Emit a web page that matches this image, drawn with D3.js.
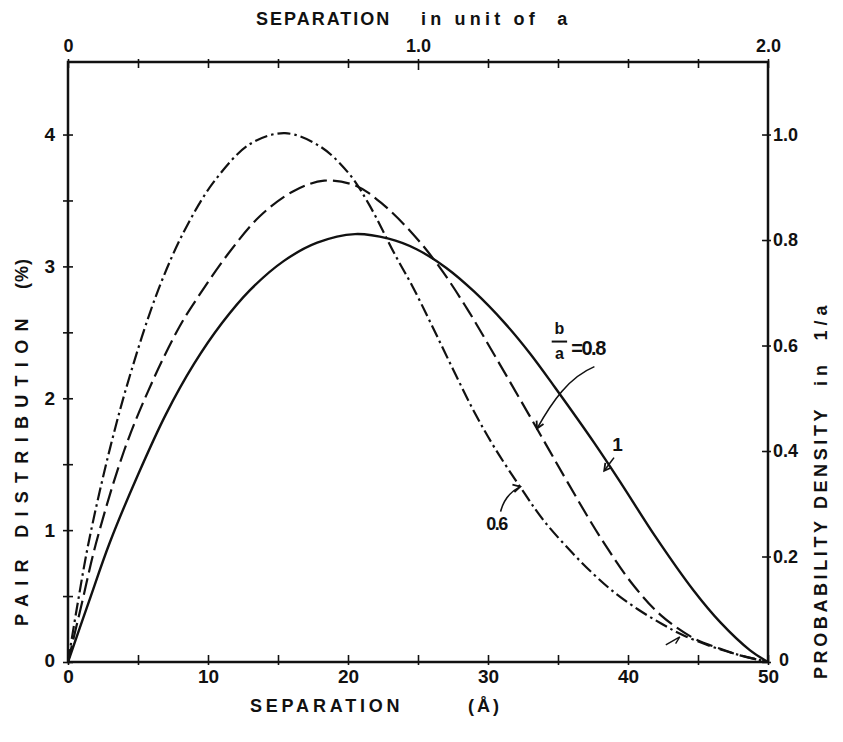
<!DOCTYPE html>
<html>
<head>
<meta charset="utf-8">
<script src="https://cdn.jsdelivr.net/npm/d3@7"></script>
<style>
body { margin: 0; background: #fff; }
text { font-family: "Liberation Sans", Arial, sans-serif; font-weight: bold; fill: #111; }
</style>
</head>
<body>
<svg width="843" height="742"></svg>
<script>
// b/a = 1 (solid)
var sepSolid  = [0, 1.5, 3, 5, 7, 9, 11, 13, 15.4, 17.8, 20.5, 22.9, 24.9, 27, 29, 31.2, 33, 34.8, 37.6, 39.6, 41.9, 44.7, 46.6, 48.7, 50];
var pairSolid = [0, 0.46, 0.91, 1.42, 1.88, 2.26, 2.57, 2.82, 3.04, 3.18, 3.245, 3.21, 3.13, 2.99, 2.81, 2.57, 2.34, 2.08, 1.66, 1.34, 0.96, 0.54, 0.30, 0.09, 0];
// b/a = 0.8 (dashed)
var sepDash  = [0, 1, 2, 4, 6, 8, 9.3, 11.4, 13.7, 16.1, 18.3, 20.6, 22.5, 24.6, 26.5, 28.5, 30.5, 32.9, 34.3, 35.7, 38, 40.4, 42.4, 44.7, 46.6, 48, 50];
var pairDash = [0, 0.45, 0.9, 1.6, 2.12, 2.55, 2.77, 3.09, 3.38, 3.57, 3.65, 3.61, 3.47, 3.25, 3.0, 2.68, 2.32, 1.88, 1.62, 1.36, 0.95, 0.58, 0.35, 0.18, 0.10, 0.05, 0];
// b/a = 0.6 (dash-dot)
var sepDot  = [0, 0.7, 1.5, 3, 4.5, 6.44, 8.36, 10.48, 13.03, 15.5, 18.0, 20.1, 21.5, 23.4, 24.6, 26, 27.5, 29, 30.5, 32.6, 34, 36, 37.6, 39, 40.7, 42.4, 43.8, 45.9, 47.7, 50];
var pairDot = [0, 0.45, 0.92, 1.62, 2.2, 2.82, 3.28, 3.65, 3.93, 4.01, 3.91, 3.70, 3.47, 3.08, 2.85, 2.55, 2.22, 1.9, 1.62, 1.28, 1.07, 0.83, 0.66, 0.53, 0.40, 0.29, 0.21, 0.12, 0.06, 0];

var xLabels = [0, 10, 20, 30, 40, 50];
var yLabels = [0, 1, 2, 3, 4];
var rightLabels = ["0", "0.2", "0.4", "0.6", "0.8", "1.0"];
var topLabels = ["0", "1.0", "2.0"];

var svg = d3.select("svg");
var mLeft = 68, mRight = 768, mTop = 62, mBottom = 662;

var x = d3.scaleLinear().domain([0, 50]).range([mLeft, mRight]);
var y = d3.scaleLinear().domain([0, 4.55]).range([mBottom, mTop]);
var xTop = d3.scaleLinear().domain([0, 2]).range([mLeft, mRight]);
var yRight = d3.scaleLinear().domain([0, 4.55 / 4]).range([mBottom, mTop]);

// frame
svg.append("rect")
    .attr("x", mLeft).attr("y", mTop)
    .attr("width", mRight - mLeft).attr("height", mBottom - mTop)
    .attr("fill", "none").attr("stroke", "#111").attr("stroke-width", 2.5);

// axes
var xAxis = d3.axisBottom(x)
    .tickValues(d3.range(0, 51, 5))
    .tickFormat(function(d) { return xLabels.indexOf(d) >= 0 ? d : ""; })
    .tickSize(4).tickPadding(4);
var gx = svg.append("g").attr("transform", "translate(0," + mBottom + ")").call(xAxis);

var topAxis = d3.axisTop(xTop)
    .tickValues(d3.range(0, 2.01, 0.2))
    .tickFormat(function(d, i) { return i == 0 ? topLabels[0] : i == 5 ? topLabels[1] : i == 10 ? topLabels[2] : ""; })
    .tickSize(4).tickPadding(6);
var gt = svg.append("g").attr("transform", "translate(0," + mTop + ")").call(topAxis);

var yAxis = d3.axisLeft(y)
    .tickValues(d3.range(0, 4.01, 0.5))
    .tickFormat(function(d) { return yLabels.indexOf(d) >= 0 ? d : ""; })
    .tickSize(4).tickPadding(9);
var gy = svg.append("g").attr("transform", "translate(" + mLeft + ",0)").call(yAxis);

var rAxis = d3.axisRight(yRight)
    .tickValues([0, 0.2, 0.4, 0.6, 0.8, 1.0])
    .tickFormat(function(d, i) { return rightLabels[i]; })
    .tickSize(3).tickPadding(2);
var gr = svg.append("g").attr("transform", "translate(" + mRight + ",0)").call(rAxis);

[gx, gt, gy, gr].forEach(function(g) {
  g.select(".domain").remove();
  g.selectAll(".tick line").attr("stroke", "#111").attr("stroke-width", 1.6);
  g.selectAll(".tick text").attr("font-size", 18).attr("fill", "#111")
      .style("font-family", "Liberation Sans, Arial, sans-serif").style("font-weight", "bold");
});
// ticks cross the frame line
gx.selectAll(".tick line").attr("y1", 3).attr("y2", -7);
gx.selectAll(".tick text").attr("font-size", 19);
gt.selectAll(".tick line").attr("y1", -3).attr("y2", function(d, i) { return i == 5 ? 8 : 6; });
gy.selectAll(".tick line").attr("x1", -5).attr("x2", 5);
gy.selectAll(".tick text").attr("font-size", 19);
gy.selectAll(".tick text").filter(function(d) { return d == 0; }).attr("y", -2);
gr.selectAll(".tick line").attr("x1", -6).attr("x2", 3);
gr.selectAll(".tick text").filter(function(d) { return d == 0; }).attr("x", 11).attr("y", -2);

// curves
var line = d3.line()
    .x(function(d) { return x(d[0]); })
    .y(function(d) { return y(d[1]); })
    .curve(d3.curveCatmullRom.alpha(0.5));

var series = [
  { sep: sepSolid, pair: pairSolid, dash: null, w: 2.4 },
  { sep: sepDash, pair: pairDash, dash: "17,6", w: 2.2 },
  { sep: sepDot, pair: pairDot, dash: "13,4,2.5,4", w: 2.2 }
];
svg.selectAll(".curve")
    .data(series)
    .enter().append("path")
    .attr("class", "curve")
    .attr("d", function(s) { return line(d3.zip(s.sep, s.pair)); })
    .attr("fill", "none")
    .attr("stroke", "#111")
    .attr("stroke-width", function(s) { return s.w; })
    .attr("stroke-dasharray", function(s) { return s.dash; });

// axis titles
svg.append("text").attr("x", 256).attr("y", 25).attr("font-size", 18)
    .attr("letter-spacing", 2).text("SEPARATION");
svg.append("text").attr("x", 421).attr("y", 25).attr("font-size", 18)
    .attr("letter-spacing", 4.2).attr("xml:space", "preserve").text("in unit of  a");

svg.append("text").attr("x", 250).attr("y", 712).attr("font-size", 18)
    .attr("letter-spacing", 3.8).text("SEPARATION");
svg.append("text").attr("x", 468).attr("y", 712).attr("font-size", 18)
    .attr("letter-spacing", 3).text("(Å)");

svg.append("text").attr("transform", "translate(28,626) rotate(-90)").attr("font-size", 18)
    .attr("letter-spacing", 8.3).text("PAIR DISTRIBUTION");
svg.append("text").attr("transform", "translate(28,289) rotate(-90)").attr("font-size", 18)
    .attr("letter-spacing", 1).text("(%)");

svg.append("text").attr("transform", "translate(827,679) rotate(-90)").attr("font-size", 18)
    .attr("letter-spacing", 3.6).text("PROBABILITY DENSITY");
svg.append("text").attr("transform", "translate(827,386) rotate(-90)").attr("font-size", 18)
    .attr("letter-spacing", 4.9).attr("xml:space", "preserve").text("in  1/a");

// annotations
function arrowHead(g, x0, y0, x1, y1) {
  var a = Math.atan2(y1 - y0, x1 - x0), L = 8, s = 0.5;
  g.append("path")
      .attr("d", "M" + (x1 - L * Math.cos(a - s)) + "," + (y1 - L * Math.sin(a - s)) +
                 "L" + x1 + "," + y1 +
                 "L" + (x1 - L * Math.cos(a + s)) + "," + (y1 - L * Math.sin(a + s)))
      .attr("fill", "none").attr("stroke", "#111").attr("stroke-width", 1.8);
}
var ann = svg.append("g");

// b/a = 0.8
ann.append("text").attr("x", x(35.1)).attr("y", y(2.49)).attr("font-size", 16).attr("text-anchor", "middle").text("b");
ann.append("line").attr("x1", x(34.55)).attr("x2", x(35.65)).attr("y1", y(2.43)).attr("y2", y(2.43))
    .attr("stroke", "#111").attr("stroke-width", 2);
ann.append("text").attr("x", x(35.1)).attr("y", y(2.3)).attr("font-size", 16).attr("text-anchor", "middle").text("a");
ann.append("text").attr("x", x(35.95)).attr("y", y(2.33)).attr("font-size", 20).attr("letter-spacing", -1.5).text("=0.8");
ann.append("path")
    .attr("d", "M" + x(37.6) + "," + y(2.24) + " C" + x(35.8) + "," + y(2.16) + " " + x(34.6) + "," + y(1.98) + " " + x(33.5) + "," + y(1.77))
    .attr("fill", "none").attr("stroke", "#111").attr("stroke-width", 1.6);
arrowHead(ann, x(34.0), y(1.88), x(33.5), y(1.77));

// 1
ann.append("text").attr("x", x(39.25)).attr("y", y(1.6)).attr("font-size", 19).attr("text-anchor", "middle").text("1");
ann.append("line").attr("x1", x(39.0)).attr("y1", y(1.55)).attr("x2", x(38.3)).attr("y2", y(1.45))
    .attr("stroke", "#111").attr("stroke-width", 1.6);
arrowHead(ann, x(39.0), y(1.55), x(38.3), y(1.45));

// 0.6
ann.append("text").attr("x", x(30.6)).attr("y", y(1.0)).attr("font-size", 18).attr("text-anchor", "middle").attr("letter-spacing", -1.5).text("0.6");
ann.append("path")
    .attr("d", "M" + x(30.9) + "," + y(1.14) + " Q" + x(31.2) + "," + y(1.27) + " " + x(32.3) + "," + y(1.33))
    .attr("fill", "none").attr("stroke", "#111").attr("stroke-width", 1.6);
arrowHead(ann, x(31.6), y(1.31), x(32.3), y(1.33));

// stray mark near bottom right
ann.append("path")
    .attr("d", "M" + x(42.7) + "," + y(0.13) + " L" + x(43.7) + "," + y(0.19) + " L" + x(43.4) + "," + y(0.14))
    .attr("fill", "none").attr("stroke", "#111").attr("stroke-width", 1.4);
</script>
</body>
</html>
